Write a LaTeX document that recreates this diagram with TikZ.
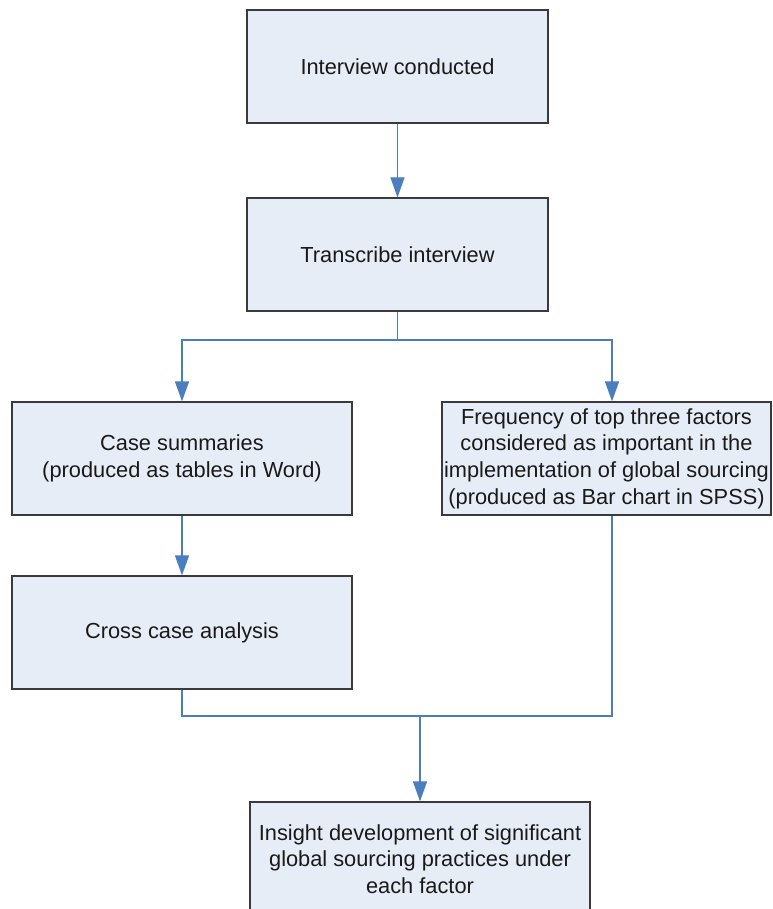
\documentclass[tikz,border=0pt]{standalone}
\usepackage{fontspec}
\setmainfont{Liberation Sans}
\usetikzlibrary{arrows.meta}
\definecolor{boxfill}{HTML}{E7EDF7}
\definecolor{boxline}{HTML}{3A3A3A}
\definecolor{flow}{HTML}{4A7EBF}
\begin{document}
\begin{tikzpicture}[x=1pt,y=-1pt,
  stepbox/.style={draw=boxline,line width=1.2pt,fill=boxfill,align=center,
    inner sep=0pt,text=black!90,
    font=\fontsize{21.8}{26.7}\selectfont},
  flowline/.style={draw=flow,line width=1.2pt},
  flowarrow/.style={flowline,-{Triangle[length=20pt,width=14pt]}}]
\useasboundingbox (0,0) rectangle (772,909);

% process boxes
\node[stepbox,minimum width=301pt,minimum height=113pt] (int) at (397.5,66.5) {Interview conducted};
\node[stepbox,minimum width=301pt,minimum height=113pt] (tra) at (397.5,254.5) {Transcribe interview};
\node[stepbox,minimum width=340pt,minimum height=113pt] (cas) at (182,458.5)
  {Case summaries\\(produced as tables in Word)};
\node[stepbox,minimum width=329pt,minimum height=113pt] (fre) at (606.5,458.5)
  {Frequency of top three factors\\considered as important in the\\implementation of global sourcing\\(produced as Bar chart in SPSS)};
\node[stepbox,minimum width=340pt,minimum height=113pt] (cro) at (182,632.5) {Cross case analysis};
\node[stepbox,minimum width=340pt,minimum height=114pt] (ins) at (420,859)
  {Insight development of significant\\global sourcing practices under\\each factor};

% junction points of the connectors
\coordinate (split) at (397.5,340);
\coordinate (rcol) at (612,0);
\coordinate (merge) at (420,716);

% connectors
\draw[flowarrow] (int.south) -- (tra.north);
\draw[flowline] (tra.south) -- (split);
\draw[flowarrow] (split) -| (cas.north);
\draw[flowarrow] (split) -| (rcol |- fre.north);
\draw[flowarrow] (cas.south) -- (cro.north);
\draw[flowline] (cro.south) |- (merge);
\draw[flowline] (rcol |- fre.south) |- (merge);
\draw[flowarrow] (merge) -- (ins.north);
\end{tikzpicture}
\end{document}
